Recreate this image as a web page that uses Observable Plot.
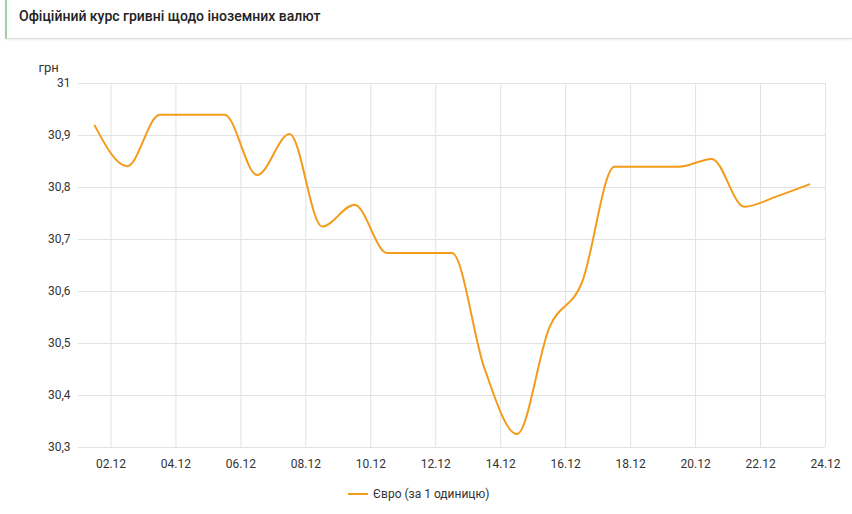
<!DOCTYPE html>
<html>
<head>
<meta charset="utf-8">
<script src="https://cdn.jsdelivr.net/npm/d3@7"></script>
<script src="https://cdn.jsdelivr.net/npm/@observablehq/plot@0.6"></script>
<style>
  html, body { margin: 0; padding: 0; background: #fff; }
  body { width: 852px; height: 514px; position: relative; overflow: hidden; font-family: Roboto, "Noto Sans", sans-serif; }
  .header {
    position: absolute; left: 5px; top: 0; width: 847px; height: 39px;
    border-left: 2px solid #9fd0ae; box-sizing: border-box;
    border-bottom: 1px solid #dcdcdc; box-shadow: 0 1px 2px rgba(0,0,0,0.08);
    background: #fff;
  }
  .header span {
    position: absolute; left: 12px; top: 8px; font-size: 14px; font-weight: 500; color: #222;
  }
  #chart { position: absolute; left: 0; top: 40px; }
  .legend { position: absolute; top: 487px; left: 348px; font-size: 12px; color: #333; display: flex; align-items: center; }
  .legend i { display: inline-block; width: 20px; height: 2px; background: #f39c1b; margin-right: 5px; }
</style>
</head>
<body>
<div class="header"><span>Офіційний курс гривні щодо іноземних валют</span></div>
<div id="chart"></div>
<div class="legend"><i></i><span>Євро (за 1 одиницю)</span></div>
<script>
// Official hryvnia rate for the euro, December
const days = ["01.12","02.12","03.12","04.12","05.12","06.12","07.12","08.12","09.12","10.12","11.12","12.12",
              "13.12","14.12","15.12","16.12","17.12","18.12","19.12","20.12","21.12","22.12","23.12"];
const euro = [30.919, 30.841, 30.940, 30.940, 30.940, 30.824, 30.903, 30.725, 30.767, 30.674, 30.674, 30.674,
              30.452, 30.326, 30.531, 30.617, 30.840, 30.840, 30.840, 30.855, 30.763, 30.783, 30.806];
const tickLabels = ["02.12","04.12","06.12","08.12","10.12","12.12","14.12","16.12","18.12","20.12","22.12","24.12"];
const yTicks = [30.3, 30.4, 30.5, 30.6, 30.7, 30.8, 30.9, 31];
const year = 2023;

const parseDay = (s, hour = 0) => {
  const [d, m] = s.split(".").map(Number);
  return new Date(Date.UTC(year, m - 1, d, hour));
};

// each daily rate sits in the middle of its day
const data = days.map((d, i) => ({date: parseDay(d, 12), value: euro[i]}));
const xTicks = tickLabels.map(s => parseDay(s));

const fmtY = v => String(+v.toFixed(1)).replace(".", ",");

const chart = Plot.plot({
  width: 852,
  height: 474,
  marginTop: 43,
  marginBottom: 67,
  marginLeft: 78,
  marginRight: 27,
  style: {fontFamily: "Roboto, sans-serif", fontSize: "12px", color: "#333", background: "transparent"},
  x: {type: "utc", domain: [parseDay("01.12"), parseDay("24.12")], ticks: xTicks, tickFormat: d3.utcFormat("%d.%m"), label: null},
  y: {domain: [30.3, 31], ticks: yTicks, tickFormat: fmtY, label: null},
  marks: [
    Plot.gridY(yTicks, {stroke: "#e2e2e2", strokeOpacity: 1}),
    Plot.gridX(xTicks, {stroke: "#e2e2e2", strokeOpacity: 1}),
    Plot.axisY(yTicks, {tickSize: 0, tickPadding: 8, tickFormat: fmtY, fontSize: 12, fill: "#333"}),
    Plot.axisX(xTicks, {tickSize: 0, tickPadding: 12, tickFormat: d3.utcFormat("%d.%m"), fontSize: 12, fill: "#333"}),
    Plot.text(["грн"], {frameAnchor: "top-left", lineAnchor: "middle", dx: -40, dy: -16, textAnchor: "start", fontSize: 13, fill: "#333"}),
    Plot.line(data, {x: "date", y: "value", stroke: "#f39c1b", strokeWidth: 2, curve: "monotone-x"})
  ]
});
document.getElementById("chart").appendChild(chart);
</script>
</body>
</html>
